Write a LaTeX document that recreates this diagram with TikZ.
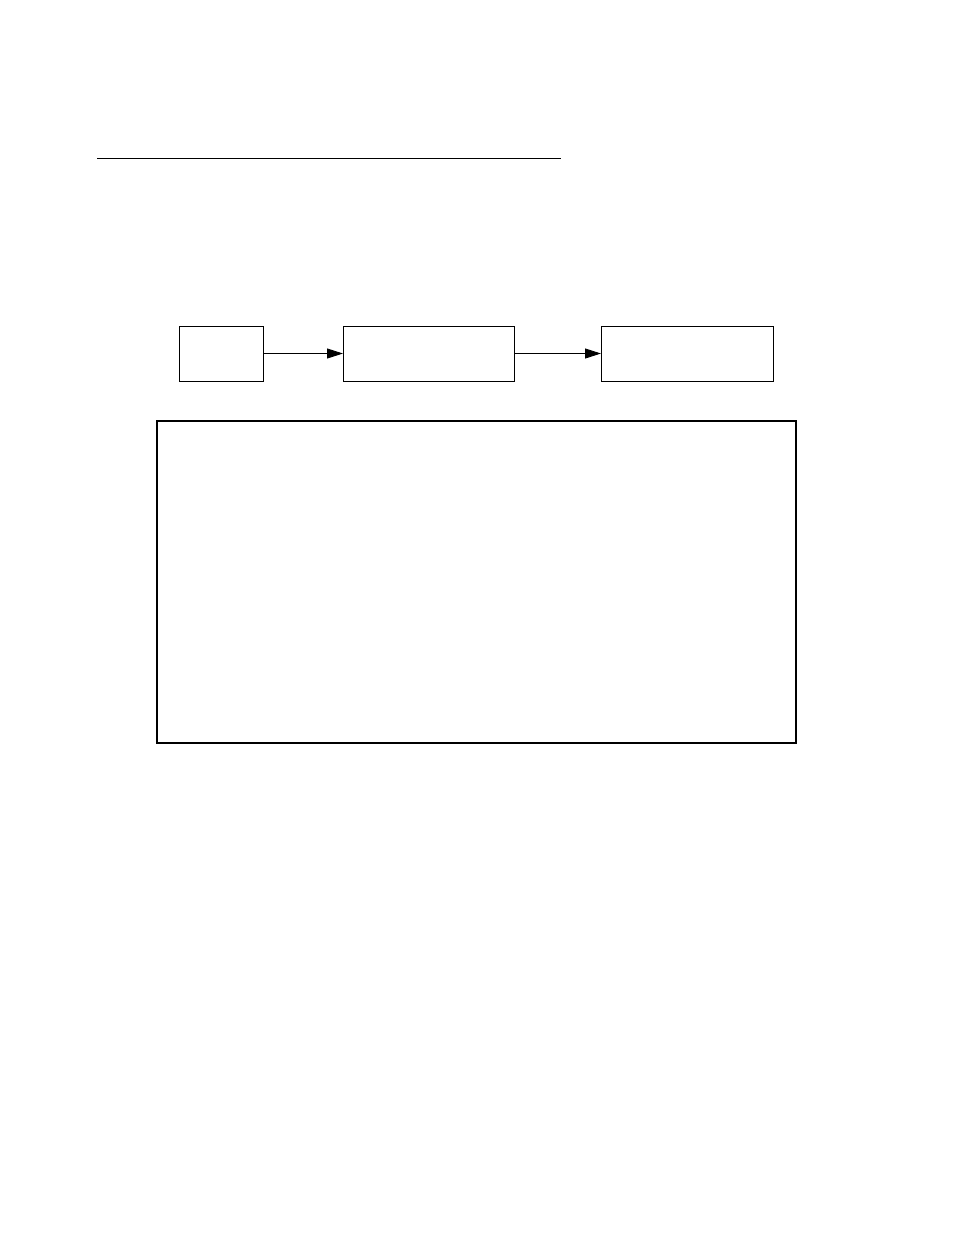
\documentclass[tikz,border=0pt]{standalone}
\usetikzlibrary{arrows.meta}

\begin{document}
\begin{tikzpicture}[x=1pt,y=-1pt,
	block/.style={draw, line width=0.9pt, inner sep=0pt, outer sep=0pt, minimum height=55pt},
	flow/.style={-{Triangle[length=16pt,width=10pt]}, line width=0.9pt}]
	\useasboundingbox (0,0) rectangle (954,1235);
	\draw[line width=0.9pt] (97,158) -- (561,158);

	\node[block, minimum width=84pt] (src) at (221,353.5) {};
	\node[block, minimum width=171pt] (mid) at (428.5,353.5) {};
	\node[block, minimum width=172pt] (dst) at (687,353.5) {};
	\draw[flow] (src) -- (mid);
	\draw[flow] (mid) -- (dst);

	\node[draw, line width=1.6pt, inner sep=0pt, minimum width=639pt, minimum height=322pt] (panel) at (476.5,582) {};
\end{tikzpicture}
\end{document}
